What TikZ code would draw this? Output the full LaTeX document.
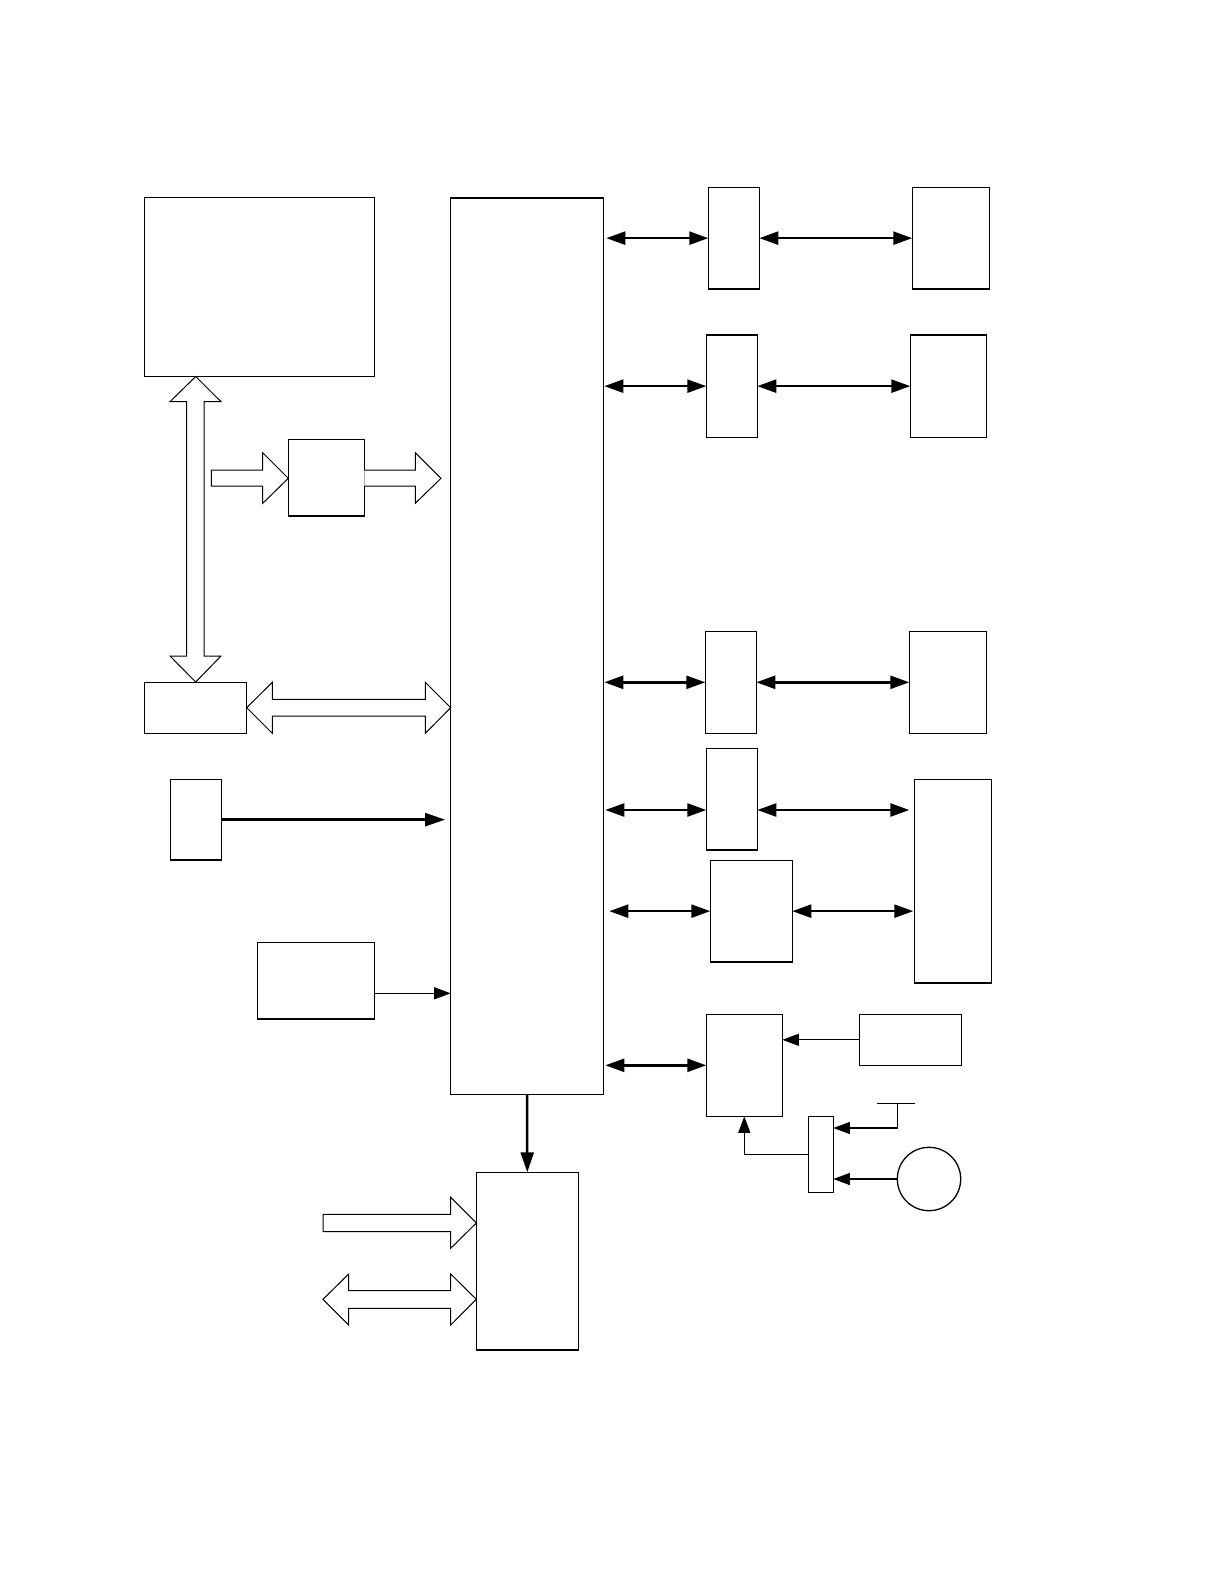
\documentclass[tikz,border=0pt]{standalone}
\usetikzlibrary{arrows.meta,fit}
\begin{document}
\begin{tikzpicture}[x=0.5pt,y=-0.5pt,
  box/.style={draw,line width=0.65pt,inner sep=0pt,outer sep=0pt},
  dbl/.style={line width=1.25pt,{Triangle[length=9.5pt,width=6.5pt]}-{Triangle[length=9.5pt,width=6.5pt]}},
  thk/.style={line width=1.25pt,-{Triangle[length=10pt,width=6.5pt]}},
  thn/.style={line width=0.65pt,-{Triangle[length=8.3pt,width=6pt]}},
  hollow/.style={draw,line width=0.5pt,fill=white,line join=miter}]
\useasboundingbox (0,0) rectangle (1222,1588);
% boxes
\node[box,fit={(144.3,197.3) (374.3,376.3)}] (A) {};
\node[box,fit={(288.3,439.3) (364.3,516)}] (B) {};
\node[box,fit={(144.3,682.3) (246.3,733.3)}] (C) {};
\node[box,fit={(170.3,779.3) (221.3,860)}] (E) {};
\node[box,fit={(257.3,942.3) (374.3,1019)}] (F) {};
\node[box,fit={(450.7,198) (603.3,1094.4)}] (main) {};
\node[box,fit={(476.3,1172.3) (578.3,1350)}] (D) {};
\node[box,fit={(708.3,187.3) (759.3,289)}] (R1a) {};
\node[box,fit={(912.3,187.3) (989.3,289)}] (R1b) {};
\node[box,fit={(706.3,335) (757.3,437.3)}] (R2a) {};
\node[box,fit={(910.3,335) (986.7,437.3)}] (R2b) {};
\node[box,fit={(705.3,631.3) (756.3,733.3)}] (R3a) {};
\node[box,fit={(909.3,631.3) (986.7,733.3)}] (R3b) {};
\node[box,fit={(706.3,748.3) (757.3,850)}] (R4a) {};
\node[box,fit={(914.3,779.3) (991.3,983)}] (R45) {};
\node[box,fit={(710.3,860.3) (792.3,962)}] (R5a) {};
\node[box,fit={(706.3,1014.3) (782.3,1116.3)}] (R6a) {};
\node[box,fit={(859.3,1014.3) (961.3,1065.3)}] (R6b) {};
\node[box,fit={(808.3,1116.3) (833.3,1192.3)}] (S) {};
\node[draw,circle,line width=0.65pt,minimum size=31.7pt,inner sep=0pt] (circ) at (929,1179) {};
\coordinate (gnd) at (897.3,1103.3);
% hollow arrows
\draw[hollow] (195.7,376.5) -- (221,401.7) -- (204,401.7) -- (204,656) -- (221,656) -- (195.7,682) -- (170,656) -- (186.7,656) -- (186.7,401.7) -- (170,401.7) -- cycle;
\draw[hollow] (211.3,470) -- (262.7,470) -- (262.7,452.7) -- (288.3,478.3) -- (262.7,503.3) -- (262.7,486) -- (211.3,486) -- cycle;
\draw[hollow] (364.3,470) -- (415.3,470) -- (415.3,452.7) -- (441,478.3) -- (415.3,503.3) -- (415.3,486) -- (364.3,486);
\draw[hollow] (246.7,707.7) -- (272.3,682.3) -- (272.3,699.3) -- (425.3,699.3) -- (425.3,682.3) -- (450.7,707.7) -- (425.3,733.3) -- (425.3,716) -- (272.3,716) -- (272.3,733.3) -- cycle;
\draw[hollow] (323,1214.3) -- (450.7,1214.3) -- (450.7,1197.3) -- (476.3,1223) -- (450.7,1248.3) -- (450.7,1231.7) -- (323,1231.7) -- cycle;
\draw[hollow] (323,1299.3) -- (348.7,1274) -- (348.7,1290.7) -- (450.7,1290.7) -- (450.7,1274) -- (476.3,1299.3) -- (450.7,1325) -- (450.7,1308.3) -- (348.7,1308.3) -- (348.7,1325) -- cycle;
% right side double arrows
\draw[dbl,shorten <=1.5pt] (main.east |- R1a.west) -- (R1a.west);
\draw[dbl] (R1a.east) -- (R1b.west);
\draw[dbl,shorten <=0.5pt] (main.east |- R2a.west) -- (R2a.west);
\draw[dbl] (R2a.east) -- (R2b.west);
\draw[dbl,shorten <=0.5pt] (main.east |- R3a.west) -- (R3a.west);
\draw[dbl] (R3a.east) -- (R3b.west);
\draw[dbl,shorten <=1pt] (main.east |- 0,810) -- (R4a.west |- 0,810);
\draw[dbl,shorten >=2.5pt] (R4a.east |- 0,810) -- (R45.west |- 0,810);
\draw[dbl,shorten <=3pt] (main.east |- R5a.west) -- (R5a.west);
\draw[dbl,shorten >=0.5pt] (R5a.east) -- (R45.west |- R5a.east);
\draw[dbl,shorten <=1pt] (main.east |- R6a.west) -- (R6a.west);
% other arrows
\draw[thn] (R6b.west) -- (R6a.east |- R6b.west);
\draw[thn] (S.west) -| (R6a.south);
\draw[line width=0.65pt] (876.7,1103.3) -- (915.3,1103.3);
\draw[thn] (gnd) |- (S.east |- 0,1128);
\draw[thn] (circ.west) -- (S.east |- circ.west);
\draw[thk] (main.south) -- (D.north);
\draw[thk,shorten >=2.8pt] (E.east) -- (main.west |- E.east);
\draw[thn] (F.east |- 0,993.3) -- (main.west |- 0,993.3);
\end{tikzpicture}
\end{document}
